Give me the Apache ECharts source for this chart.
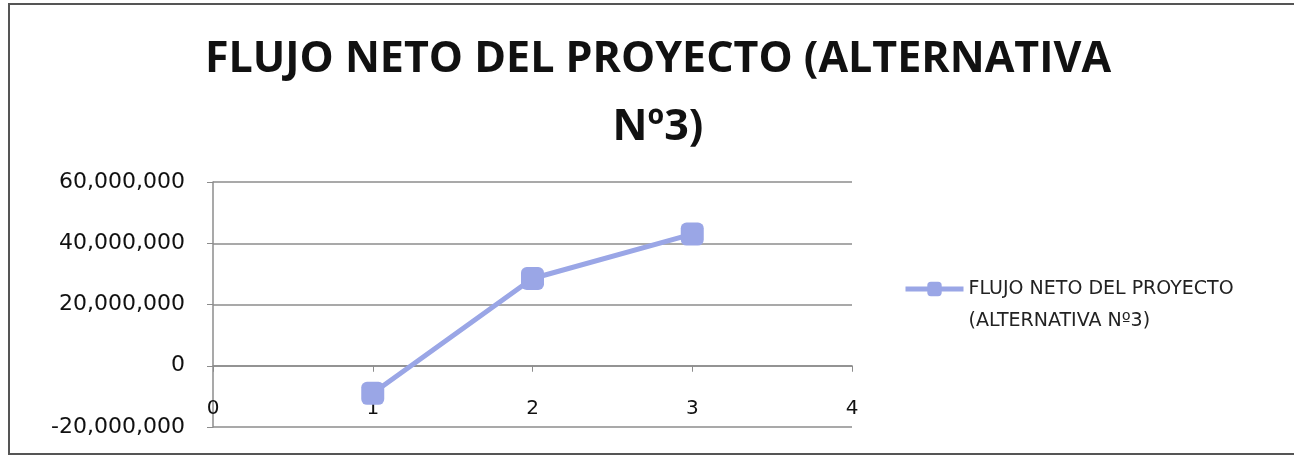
<!DOCTYPE html>
<html>
<head>
<meta charset="utf-8">
<script src="https://cdn.jsdelivr.net/npm/echarts@6/dist/echarts.min.js"></script>
<style>
  html, body { margin: 0; padding: 0; background: #fff; }
  #chart { width: 1294px; height: 456px; }
</style>
</head>
<body>
<div id="chart"></div>
<script>
// Net project cash flow by period (alternative Nº3)
const periods = [1, 2, 3];
const netFlow = [-9000000, 28500000, 43000000];
const seriesName = 'FLUJO NETO DEL PROYECTO\n(ALTERNATIVA Nº3)';
const titleText = 'FLUJO NETO DEL PROYECTO (ALTERNATIVA\nNº3)';

const Y_MIN = -20000000;
const Y_MAX = 60000000;

const chart = echarts.init(document.getElementById('chart'), null, { renderer: 'canvas' });

const lineColor = '#9aa6e6';
const gridColor = '#8c8c8c';

const gridTop = 182;
const gridBottomY = 427;
// the horizontal axis sits on the zero line
const zeroOffset = -(gridBottomY - gridTop) * (0 - Y_MIN) / (Y_MAX - Y_MIN);

chart.setOption({
  animation: false,
  backgroundColor: '#ffffff',
  graphic: [{
    type: 'rect',
    shape: { x: 9, y: 4, width: 1400, height: 450 },
    style: { fill: 'none', stroke: '#555', lineWidth: 2 },
    silent: true,
    z: 100
  }],
  title: {
    text: titleText,
    left: 653,
    top: 21,
    textAlign: 'center',
    textStyle: {
      fontFamily: 'Open Sans',
      fontWeight: 'bold',
      fontSize: 43,
      lineHeight: 68,
      color: '#111'
    }
  },
  legend: {
    orient: 'vertical',
    left: 898,
    top: 236,
    itemWidth: 58,
    itemHeight: 18,
    data: [{ name: seriesName, lineStyle: { width: 5 } }],
    formatter: name => ' \n' + name,
    textStyle: {
      fontFamily: 'DejaVu Sans',
      fontSize: 19,
      lineHeight: 32,
      color: '#222'
    }
  },
  grid: {
    left: 213,
    right: 1294 - 852,
    top: gridTop,
    bottom: 456 - gridBottomY,
    outerBoundsMode: 'none',
    containLabel: false
  },
  xAxis: {
    type: 'value',
    min: 0,
    max: 4,
    interval: 1,
    offset: zeroOffset,
    axisLine: { show: true, onZero: false, lineStyle: { color: gridColor, width: 1.5 } },
    axisTick: { show: true, length: 6, lineStyle: { color: gridColor } },
    axisLabel: {
      margin: 33,
      fontFamily: 'DejaVu Sans',
      fontSize: 20,
      color: '#111'
    },
    splitLine: { show: false }
  },
  yAxis: {
    type: 'value',
    min: Y_MIN,
    max: Y_MAX,
    interval: 20000000,
    axisLine: { show: true, lineStyle: { color: gridColor, width: 1.5 } },
    axisTick: { show: true, length: 6, lineStyle: { color: gridColor } },
    axisLabel: {
      margin: 28,
      fontFamily: 'DejaVu Sans',
      fontSize: 22,
      color: '#111',
      formatter: v => v.toLocaleString('en-US')
    },
    splitLine: { show: true, lineStyle: { color: gridColor, width: 1.5 } }
  },
  series: [{
    name: seriesName,
    type: 'line',
    data: periods.map((p, i) => [p, netFlow[i]]),
    color: lineColor,
    lineStyle: { color: lineColor, width: 5 },
    symbol: 'roundRect',
    symbolSize: 23,
    itemStyle: { color: lineColor },
    z: 5
  }]
});
</script>
</body>
</html>
